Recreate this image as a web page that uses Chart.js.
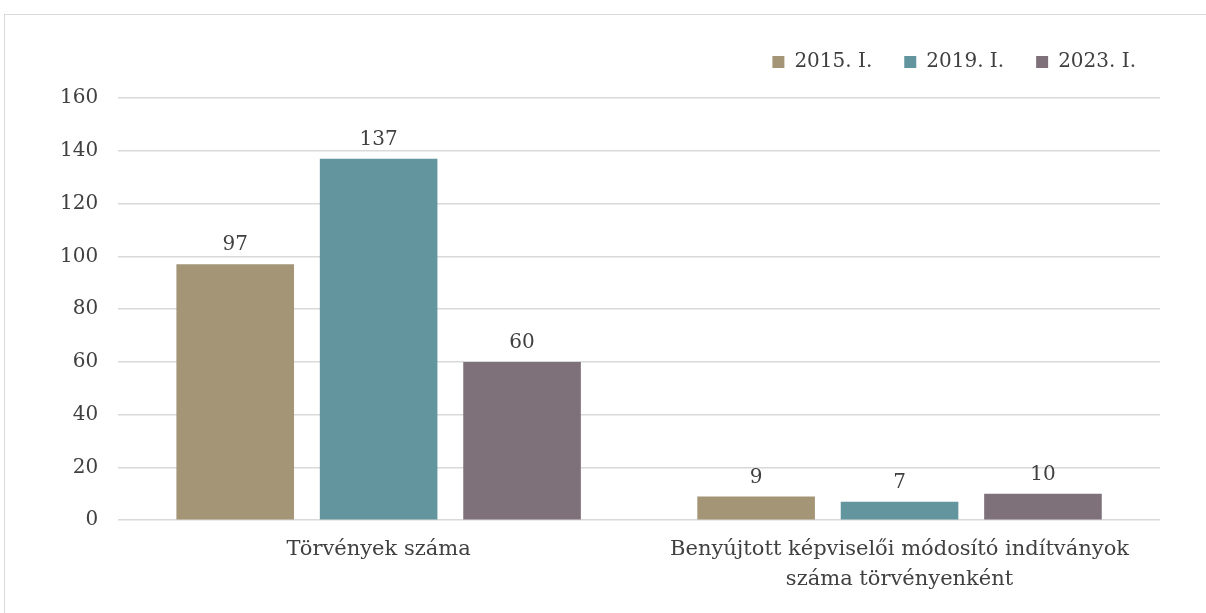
<!DOCTYPE html>
<html lang="hu">
<head>
    <meta charset="UTF-8">
    <title>Törvények száma</title>
    <script src="https://cdn.jsdelivr.net/npm/chart.js"></script>
    <style>
        body {
            margin: 0;
            background: #ffffff;
            overflow: hidden;
        }
        .frame {
            position: absolute;
            left: 4px;
            top: 14px;
            width: 1220px;
            height: 620px;
            border: 1px solid #d9d9d9; /* light chart border */
        }
        .chart-box {
            position: absolute;
            left: 0;
            top: 0;
            width: 1206px;
            height: 613px;
        }
    </style>
</head>
<body>
    <div class="frame"></div>
    <div class="chart-box"><canvas id="lawChart"></canvas></div>

    <script>
        const categories = [
            'Törvények száma',
            ['Benyújtott képviselői módosító indítványok', 'száma törvényenként']
        ];
        const seriesNames = ['2015. I.', '2019. I.', '2023. I.'];
        const values2015 = [97, 9];
        const values2019 = [137, 7];
        const values2023 = [60, 10];
        const yTicks = [0, 20, 40, 60, 80, 100, 120, 140, 160];

        const colors = ['#a39576', '#62959e', '#7e7179'];
        const textColor = '#404040';
        const fontFamily = '"DejaVu Serif", Georgia, serif';

        // draws the value above each bar
        const valueLabels = {
            id: 'valueLabels',
            afterDatasetsDraw(chart) {
                const ctx = chart.ctx;
                ctx.save();
                ctx.fillStyle = textColor;
                ctx.font = '20px ' + fontFamily;
                ctx.textAlign = 'center';
                ctx.textBaseline = 'bottom';
                chart.data.datasets.forEach((ds, i) => {
                    chart.getDatasetMeta(i).data.forEach((bar, j) => {
                        ctx.fillText(ds.data[j], bar.x, bar.y - 9);
                    });
                });
                ctx.restore();
            }
        };

        // extra room between legend and plot, legend nudged right
        const legendGap = {
            id: 'legendGap',
            beforeInit(chart) {
                const fit = chart.legend.fit;
                chart.legend.fit = function () {
                    fit.call(this);
                    this.height += 16;
                };
            },
            afterLayout(chart) {
                chart.legend.right += 8;
            }
        };

        new Chart(document.getElementById('lawChart'), {
            type: 'bar',
            data: {
                labels: categories,
                datasets: [
                    { label: seriesNames[0], data: values2015, backgroundColor: colors[0] },
                    { label: seriesNames[1], data: values2019, backgroundColor: colors[1] },
                    { label: seriesNames[2], data: values2023, backgroundColor: colors[2] }
                ]
            },
            options: {
                responsive: true,
                maintainAspectRatio: false,
                animation: false,
                datasets: {
                    bar: {
                        categoryPercentage: 0.826,
                        barPercentage: 0.82
                    }
                },
                layout: {
                    padding: { left: 40, right: 46, top: 20, bottom: 12 }
                },
                scales: {
                    x: {
                        grid: { display: false },
                        border: { display: false },
                        ticks: {
                            color: textColor,
                            font: { family: fontFamily, size: 21, lineHeight: 1.4 },
                            padding: 7
                        }
                    },
                    y: {
                        min: 0,
                        max: 160,
                        afterBuildTicks(axis) {
                            axis.ticks = yTicks.map(v => ({ value: v }));
                        },
                        grid: {
                            color: '#d9d9d9',
                            lineWidth: 1.5,
                            drawTicks: false
                        },
                        border: { display: false },
                        ticks: {
                            color: textColor,
                            font: { family: fontFamily, size: 20 },
                            padding: 20
                        }
                    }
                },
                plugins: {
                    legend: {
                        position: 'top',
                        align: 'end',
                        labels: {
                            color: textColor,
                            font: { family: fontFamily, size: 20 },
                            boxWidth: 12,
                            boxHeight: 12,
                            padding: 32
                        }
                    },
                    tooltip: { enabled: false }
                }
            },
            plugins: [valueLabels, legendGap]
        });
    </script>
</body>
</html>
